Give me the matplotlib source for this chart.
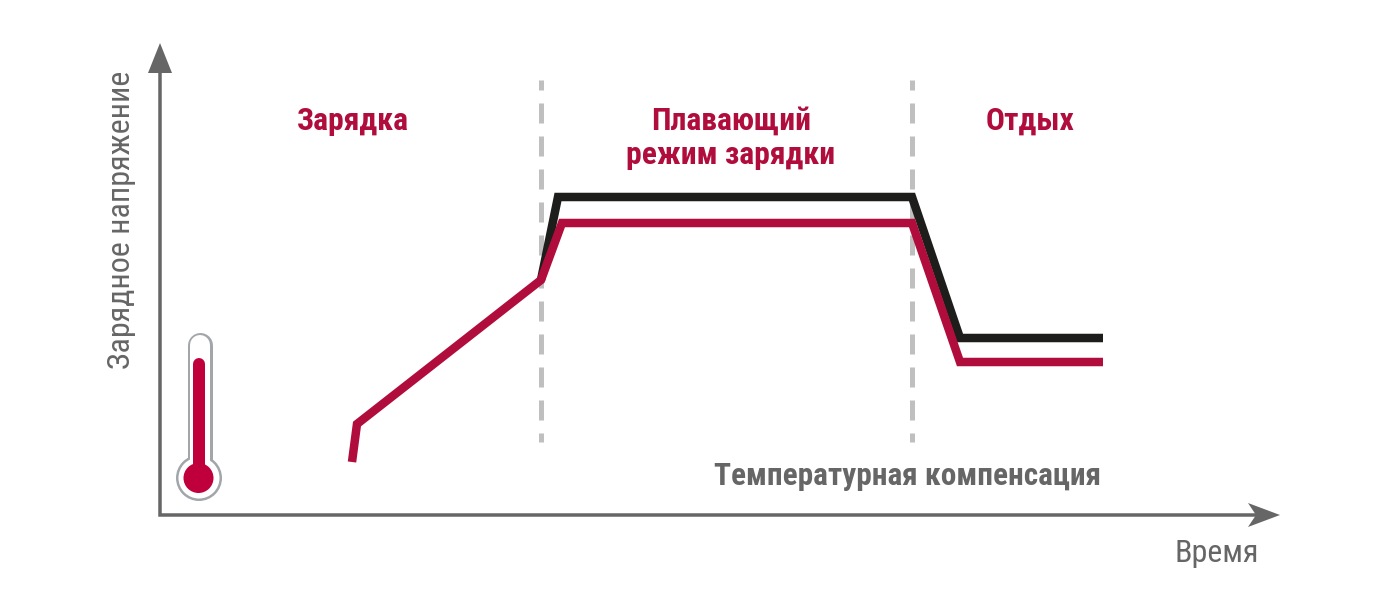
import matplotlib
matplotlib.use("Agg")
import matplotlib.pyplot as plt

# values are in picture units, y grows downwards
red_x = [352, 357, 541, 562, 912, 960, 1103]
red_y = [462, 424, 280, 223, 223, 362, 362]
black_x = [541, 558, 912, 960, 1103]
black_y = [280, 197, 197, 338, 338]
phase_x = [541, 912]
phase_top = 80
phase_bottom = 442

RED = "#b00d3c"
BLACK = "#1d1d1b"
GREY = "#666666"
DASH = "#bfbfbf"
PX = 72 / 100  # one pixel in points

narrow = ["Roboto Condensed", "Liberation Sans"]

fig = plt.figure(figsize=(13.92, 5.9), dpi=100)
ax = fig.add_axes([0, 0, 1, 1])
ax.set_xlim(0, 1392)
ax.set_ylim(590, 0)
ax.axis("off")

# phase borders
for x in phase_x:
    ax.plot([x, x], [phase_top + 23, phase_bottom], color=DASH, lw=5 * PX,
            dashes=(20 / 5, 13 / 5), dash_capstyle="butt", zorder=1)
    ax.plot([x, x], [phase_top, phase_top + 10], color=DASH, lw=5 * PX,
            solid_capstyle="butt", zorder=1)

# axes arrows
ax.plot([160, 160, 1255], [70, 515, 515], color=GREY, lw=3.5 * PX,
        solid_joinstyle="miter", zorder=2)
ax.fill([160, 148, 172], [43, 73, 73], color=GREY, lw=0, zorder=2)
ax.fill([1280, 1248, 1256, 1248], [515, 503, 515, 527], color=GREY, lw=0, zorder=2)

# curves
ax.plot(black_x, black_y, color=BLACK, lw=8.5 * PX, solid_joinstyle="miter",
        solid_capstyle="butt", zorder=3)
ax.plot(red_x, red_y, color=RED, lw=8.5 * PX, solid_joinstyle="miter",
        solid_capstyle="butt", zorder=4)

# thermometer
ax.plot([199.5, 199.5], [345, 470], color="#a2a6aa", lw=25 * PX, solid_capstyle="round", zorder=2)
ax.add_patch(plt.Circle((199, 478), 23, color="#a2a6aa", lw=0, zorder=2))
ax.add_patch(plt.Circle((199, 478), 20.5, color="white", lw=0, zorder=3))
ax.plot([199.5, 199.5], [345, 470], color="white", lw=20 * PX, solid_capstyle="round", zorder=3)
ax.plot([199, 199], [364, 470], color="#c0003c", lw=12 * PX, solid_capstyle="round", zorder=4)
ax.add_patch(plt.Circle((198.5, 478), 15, color="#c0003c", lw=0, zorder=4))

# labels
bold = dict(family=narrow, fontweight="bold", fontsize=22.8, ha="center", va="center")
ax.text(353, 121, "Зарядка", color=RED, **bold)
ax.text(731, 121, "Плавающий", color=RED, **bold)
ax.text(731, 155, "режим зарядки", color=RED, **bold)
ax.text(1030, 121, "Отдых", color=RED, **bold)
ax.text(908, 476, "Температурная компенсация", color=GREY, family=narrow,
        fontweight="bold", fontsize=22.6, ha="center", va="center")
ax.text(1217, 553, "Время", color=GREY, family=narrow, fontsize=23,
        ha="center", va="center")
ax.text(122, 220, "Зарядное напряжение", color=GREY, family=narrow, fontsize=23,
        rotation=90, ha="center", va="center")

fig.savefig("out.png", dpi=100)
